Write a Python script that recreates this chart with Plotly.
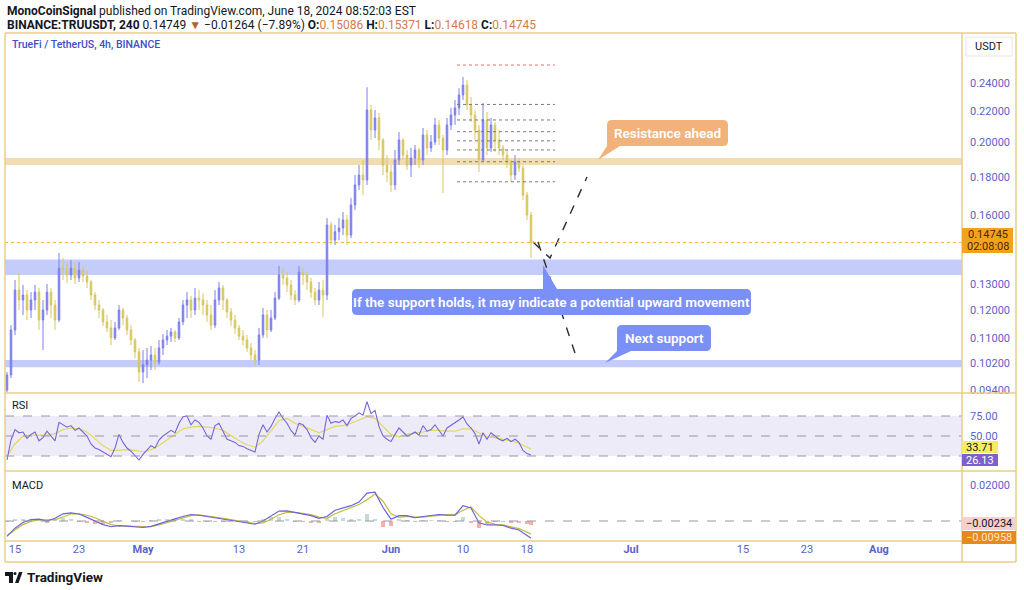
import pandas as pd
import plotly.graph_objects as go

# ---------------- data ----------------
candle_time = pd.date_range("2024-04-14 00:00", periods=132, freq="12h")

opens = [0.0940, 0.0984, 0.1129, 0.1275, 0.1237, 0.1256, 0.1200, 0.1237, 0.1267, 0.1164,
         0.1200, 0.1267, 0.1218, 0.1164, 0.1363, 0.1355, 0.1335, 0.1363, 0.1323, 0.1355,
         0.1331, 0.1307, 0.1256, 0.1218, 0.1200, 0.1157, 0.1136, 0.1102, 0.1136, 0.1200,
         0.1171, 0.1129, 0.1095, 0.1056, 0.0993, 0.1015, 0.1030, 0.1046, 0.1024, 0.1069,
         0.1095, 0.1108, 0.1122, 0.1102, 0.1157, 0.1218, 0.1237, 0.1200, 0.1244, 0.1237,
         0.1218, 0.1182, 0.1146, 0.1237, 0.1283, 0.1237, 0.1193, 0.1164, 0.1136, 0.1108,
         0.1095, 0.1069, 0.1046, 0.1030, 0.1112, 0.1182, 0.1129, 0.1171, 0.1244, 0.1335,
         0.1323, 0.1295, 0.1256, 0.1237, 0.1347, 0.1335, 0.1307, 0.1267, 0.1237, 0.1275,
         0.1256, 0.1555, 0.1485, 0.1523, 0.1541, 0.1579, 0.1508, 0.1653, 0.1757, 0.1811,
         0.1784, 0.2208, 0.2078, 0.2155, 0.2015, 0.1867, 0.1828, 0.1757, 0.1896, 0.2015,
         0.1925, 0.1867, 0.1908, 0.1955, 0.1896, 0.2046, 0.1967, 0.2003, 0.2110, 0.2027,
         0.1955, 0.2110, 0.2175, 0.2222, 0.2312, 0.2382, 0.2242, 0.2175, 0.2078, 0.1896,
         0.2142, 0.1967, 0.2110, 0.2015, 0.1967, 0.1925, 0.1884, 0.1811, 0.1884, 0.1850,
         0.1704, 0.1603]

highs = [0.0993, 0.1146, 0.1315, 0.1343, 0.1295, 0.1275, 0.1267, 0.1295, 0.1283, 0.1237,
         0.1299, 0.1283, 0.1237, 0.1428, 0.1406, 0.1389, 0.1397, 0.1389, 0.1389, 0.1372,
         0.1355, 0.1315, 0.1267, 0.1237, 0.1207, 0.1182, 0.1164, 0.1157, 0.1218, 0.1207,
         0.1182, 0.1146, 0.1102, 0.1069, 0.1062, 0.1069, 0.1075, 0.1069, 0.1095, 0.1115,
         0.1129, 0.1136, 0.1129, 0.1171, 0.1237, 0.1267, 0.1252, 0.1283, 0.1275, 0.1263,
         0.1237, 0.1218, 0.1275, 0.1307, 0.1295, 0.1244, 0.1207, 0.1182, 0.1146, 0.1129,
         0.1112, 0.1085, 0.1062, 0.1136, 0.1207, 0.1200, 0.1200, 0.1267, 0.1372, 0.1363,
         0.1347, 0.1315, 0.1275, 0.1372, 0.1363, 0.1347, 0.1323, 0.1283, 0.1307, 0.1315,
         0.1588, 0.1569, 0.1555, 0.1588, 0.1618, 0.1603, 0.1688, 0.1811, 0.1867, 0.1896,
         0.2367, 0.2242, 0.2208, 0.2188, 0.2027, 0.1925, 0.1867, 0.1955, 0.2065, 0.2027,
         0.1955, 0.1967, 0.1985, 0.1967, 0.2091, 0.2078, 0.2046, 0.2155, 0.2142, 0.2046,
         0.2155, 0.2222, 0.2277, 0.2359, 0.2442, 0.2419, 0.2298, 0.2208, 0.2110, 0.2256,
         0.2195, 0.2155, 0.2129, 0.2078, 0.1985, 0.1955, 0.1896, 0.1925, 0.1908, 0.1867,
         0.1720, 0.1618]

lows = [0.0934, 0.0975, 0.1112, 0.1200, 0.1182, 0.1164, 0.1171, 0.1200, 0.1129, 0.1062,
        0.1182, 0.1171, 0.1129, 0.1157, 0.1315, 0.1303, 0.1315, 0.1299, 0.1307, 0.1307,
        0.1283, 0.1237, 0.1200, 0.1171, 0.1143, 0.1122, 0.1078, 0.1095, 0.1129, 0.1146,
        0.1112, 0.1078, 0.1036, 0.0963, 0.0960, 0.0975, 0.0999, 0.0999, 0.1015, 0.1046,
        0.1078, 0.1088, 0.1088, 0.1095, 0.1146, 0.1171, 0.1171, 0.1182, 0.1200, 0.1182,
        0.1157, 0.1129, 0.1136, 0.1218, 0.1200, 0.1171, 0.1143, 0.1115, 0.1095, 0.1078,
        0.1056, 0.1030, 0.1012, 0.1015, 0.1102, 0.1102, 0.1122, 0.1164, 0.1237, 0.1295,
        0.1267, 0.1237, 0.1218, 0.1229, 0.1295, 0.1275, 0.1244, 0.1218, 0.1218, 0.1175,
        0.1237, 0.1463, 0.1463, 0.1485, 0.1508, 0.1463, 0.1494, 0.1628, 0.1730, 0.1704,
        0.1757, 0.2015, 0.2027, 0.1955, 0.1811, 0.1773, 0.1720, 0.1730, 0.1867, 0.1896,
        0.1839, 0.1800, 0.1867, 0.1850, 0.1867, 0.1925, 0.1943, 0.1985, 0.1985, 0.1714,
        0.1925, 0.2078, 0.2110, 0.2175, 0.2277, 0.2208, 0.2129, 0.2015, 0.1828, 0.1884,
        0.1925, 0.1943, 0.1943, 0.1925, 0.1896, 0.1850, 0.1773, 0.1784, 0.1828, 0.1678,
        0.1579, 0.1406]

closes = [0.0984, 0.1129, 0.1275, 0.1237, 0.1256, 0.1200, 0.1237, 0.1267, 0.1164, 0.1200,
          0.1267, 0.1218, 0.1164, 0.1363, 0.1355, 0.1335, 0.1363, 0.1323, 0.1355, 0.1331,
          0.1307, 0.1256, 0.1218, 0.1200, 0.1157, 0.1136, 0.1102, 0.1136, 0.1200, 0.1171,
          0.1129, 0.1095, 0.1056, 0.0993, 0.1015, 0.1030, 0.1046, 0.1024, 0.1069, 0.1095,
          0.1108, 0.1122, 0.1102, 0.1157, 0.1218, 0.1237, 0.1200, 0.1244, 0.1237, 0.1218,
          0.1182, 0.1146, 0.1237, 0.1283, 0.1237, 0.1193, 0.1164, 0.1136, 0.1108, 0.1095,
          0.1069, 0.1046, 0.1030, 0.1112, 0.1182, 0.1129, 0.1171, 0.1244, 0.1335, 0.1323,
          0.1295, 0.1256, 0.1237, 0.1347, 0.1335, 0.1307, 0.1267, 0.1237, 0.1275, 0.1256,
          0.1555, 0.1485, 0.1523, 0.1541, 0.1579, 0.1508, 0.1653, 0.1757, 0.1811, 0.1784,
          0.2208, 0.2078, 0.2155, 0.2015, 0.1867, 0.1828, 0.1757, 0.1896, 0.2015, 0.1925,
          0.1867, 0.1908, 0.1955, 0.1896, 0.2046, 0.1967, 0.2003, 0.2110, 0.2027, 0.1955,
          0.2110, 0.2175, 0.2222, 0.2312, 0.2382, 0.2242, 0.2175, 0.2078, 0.1896, 0.2142,
          0.1967, 0.2110, 0.2015, 0.1967, 0.1925, 0.1884, 0.1811, 0.1884, 0.1850, 0.1704,
          0.1603, 0.14745]

rsi = [20, 45, 58, 54, 55, 47, 52, 55, 44, 48,
       56, 50, 44, 67, 64, 61, 63, 57, 60, 55,
       50, 40, 35, 33, 30, 28, 24, 35, 52, 42,
       35, 31, 26, 20, 27, 33, 38, 35, 45, 50,
       53, 57, 54, 66, 74, 75, 64, 70, 67, 60,
       50, 46, 63, 66, 56, 46, 44, 42, 38, 37,
       34, 32, 30, 52, 64, 55, 62, 72, 80, 72,
       66, 57, 51, 66, 64, 58, 48, 42, 50, 46,
       76, 66, 68, 67, 70, 63, 72, 75, 79, 76,
       93, 78, 82, 62, 50, 46, 43, 52, 60, 55,
       50, 52, 55, 51, 63, 56, 58, 64, 57, 50,
       60, 63, 66, 70, 74, 65, 60, 53, 40, 54,
       46, 54, 50, 46, 44, 47, 43, 46, 42, 32,
       28, 26.13]

day_time = list(pd.date_range("2024-04-14", periods=66, freq="D")) + [pd.Timestamp("2024-06-18 12:00")]

rsi_ma = [25, 40, 50, 51, 51, 51, 53, 58, 60, 59,
          55, 47, 38, 32, 32, 33, 32, 30, 33, 38,
          45, 52, 59, 61, 62, 61, 60, 57, 50, 44,
          39, 36, 44, 56, 69, 72, 66, 62, 58, 54,
          58, 62, 63, 66, 70, 74, 72, 62, 52, 49,
          52, 54, 55, 57, 57, 56, 56, 59, 59, 54,
          49, 48, 46, 44, 41, 36, 33.71]

macd = [-0.0085, -0.0040, -0.0008, 0.0008, 0.0010, 0.0000, 0.0015, 0.0040, 0.0045, 0.0039,
        0.0020, 0.0000, -0.0020, -0.0032, -0.0026, -0.0028, -0.0032, -0.0036, -0.0030, -0.0015,
        0.0000, 0.0012, 0.0025, 0.0036, 0.0032, 0.0025, 0.0017, 0.0010, 0.0004, -0.0002,
        -0.0010, -0.0018, 0.0000, 0.0030, 0.0055, 0.0056, 0.0046, 0.0040, 0.0030, 0.0015,
        0.0025, 0.0060, 0.0072, 0.0085, 0.0105, 0.0155, 0.0160, 0.0075, 0.0010, 0.0030,
        0.0030, 0.0018, 0.0025, 0.0030, 0.0036, 0.0033, 0.0032, 0.0085, 0.0072, -0.0010,
        -0.0022, -0.0022, -0.0025, -0.0040, -0.0050, -0.0080, -0.00958]

signal = [-0.0080, -0.0050, -0.0020, -0.0002, 0.0006, 0.0006, 0.0006, 0.0022, 0.0039, 0.0040,
          0.0032, 0.0018, -0.0002, -0.0020, -0.0027, -0.0028, -0.0030, -0.0032, -0.0032, -0.0022,
          -0.0008, 0.0006, 0.0018, 0.0030, 0.0034, 0.0030, 0.0022, 0.0015, 0.0008, 0.0002,
          -0.0006, -0.0014, -0.0010, 0.0010, 0.0035, 0.0048, 0.0048, 0.0043, 0.0036, 0.0022,
          0.0015, 0.0040, 0.0058, 0.0075, 0.0092, 0.0118, 0.0150, 0.0110, 0.0040, 0.0020,
          0.0026, 0.0022, 0.0022, 0.0027, 0.0032, 0.0035, 0.0034, 0.0060, 0.0078, 0.0030,
          -0.0005, -0.0018, -0.0022, -0.0030, -0.0042, -0.0062, -0.00724]

hist = [m - s for m, s in zip(macd, signal)]

price_ticks = [0.094, 0.102, 0.11, 0.12, 0.13, 0.16, 0.18, 0.20, 0.22, 0.24]
rsi_ticks = [50, 75]
macd_ticks = [0.02]
date_ticks = ["2024-04-15", "2024-04-23", "2024-05-01", "2024-05-13", "2024-05-21", "2024-06-01",
              "2024-06-10", "2024-06-18", "2024-07-01", "2024-07-15", "2024-07-23", "2024-08-01"]
date_labels = ["15", "23", "<b>May</b>", "13", "21", "<b>Jun</b>", "10", "18", "<b>Jul</b>", "15", "23", "<b>Aug</b>"]

resistance_zone = [0.1867, 0.1908]
support_zone = [0.1335, 0.1400]
next_support_zone = [0.1008, 0.1030]
last_price = 0.14745

fib_levels = [0.2533, 0.2246, 0.2142, 0.2067, 0.2010, 0.1955, 0.1886, 0.1774]
fib_span = ["2024-06-09 06:00", "2024-06-21 12:00"]

proj_up_t = ["2024-06-18 18:00", "2024-06-20 21:00", "2024-06-25 12:00"]
proj_up_p = [0.1476, 0.1406, 0.1800]
proj_dn_t = ["2024-06-19 09:00", "2024-06-24 00:00"]
proj_dn_p = [0.1476, 0.1052]

# ---------------- style ----------------
FONT = "Roboto, Lato, sans-serif"
UP = "#7c80ea"
DOWN = "#d8c65c"
AXC = "#5b62c9"
FRAME = "#e8cf84"
DARK = "#131722"

# plot area in pixels
PL, PR, PT, PB = 5, 962, 33, 541


def px(X):
    return (X - PL) / (PR - PL)


def py(Y):
    return (PB - Y) / (PB - PT)


fig = go.Figure()

fig.add_trace(go.Candlestick(
    x=candle_time, open=opens, high=highs, low=lows, close=closes,
    increasing=dict(line=dict(color=UP, width=1), fillcolor=UP),
    decreasing=dict(line=dict(color=DOWN, width=1), fillcolor=DOWN),
    whiskerwidth=0, xaxis="x", yaxis="y", showlegend=False, hoverinfo="skip"))

fig.add_trace(go.Scatter(x=proj_up_t, y=proj_up_p, mode="lines", xaxis="x", yaxis="y",
                         line=dict(color="#2a2e39", width=1.4, dash="dash"), hoverinfo="skip"))
fig.add_trace(go.Scatter(x=proj_dn_t, y=proj_dn_p, mode="lines", xaxis="x", yaxis="y",
                         line=dict(color="#2a2e39", width=1.4, dash="dash"), hoverinfo="skip"))

fig.add_trace(go.Scatter(x=day_time, y=rsi_ma, mode="lines", xaxis="x", yaxis="y2",
                         line=dict(color="#e3d75a", width=1.2), hoverinfo="skip"))
fig.add_trace(go.Scatter(x=candle_time, y=rsi, mode="lines", xaxis="x", yaxis="y2",
                         line=dict(color="#7466d8", width=1.1), hoverinfo="skip"))

fig.add_trace(go.Bar(x=day_time, y=hist, xaxis="x", yaxis="y3", width=0.4 * 86400000,
                     marker=dict(color=["#c3ddd6" if h >= 0 else "#f4b0aa" for h in hist], line=dict(width=0)),
                     hoverinfo="skip"))
fig.add_trace(go.Scatter(x=day_time, y=signal, mode="lines", xaxis="x", yaxis="y3",
                         line=dict(color="#c4ba3e", width=1.2), hoverinfo="skip"))
fig.add_trace(go.Scatter(x=day_time, y=macd, mode="lines", xaxis="x", yaxis="y3",
                         line=dict(color="#6b63d8", width=1.2), hoverinfo="skip"))

shapes = []
# zones
for z, col in [(resistance_zone, "#f1dcb4"), (support_zone, "#c4ccfb"), (next_support_zone, "#c4ccfb")]:
    shapes.append(dict(type="rect", xref="paper", yref="y", x0=0, x1=1, y0=z[0], y1=z[1],
                       fillcolor=col, line=dict(width=0), layer="below"))
# last price line
shapes.append(dict(type="line", xref="paper", yref="y", x0=0, x1=1, y0=last_price, y1=last_price,
                   line=dict(color="#f0b43c", width=1, dash="dot")))
# fib lines
for k, lv in enumerate(fib_levels):
    shapes.append(dict(type="line", xref="x", yref="y", x0=fib_span[0], x1=fib_span[1], y0=lv, y1=lv,
                       line=dict(color="#e57373" if k == 0 else "#787b86", width=1, dash="dot")))
# RSI band and levels
shapes.append(dict(type="rect", xref="paper", yref="y2", x0=0, x1=1, y0=25, y1=75,
                   fillcolor="#eeebf8", line=dict(width=0), layer="below"))
for lv in [25, 50, 75]:
    shapes.append(dict(type="line", xref="paper", yref="y2", x0=0, x1=1, y0=lv, y1=lv,
                       line=dict(color="#9598a1", width=1, dash="dash")))
shapes.append(dict(type="line", xref="paper", yref="y3", x0=0, x1=1, y0=0, y1=0,
                   line=dict(color="#9598a1", width=1, dash="dash")))


# frame
def hline(Y, X0=5, X1=1016):
    shapes.append(dict(type="line", xref="paper", yref="paper", x0=px(X0), x1=px(X1), y0=py(Y), y1=py(Y),
                       line=dict(color=FRAME, width=1.5)))


def vline(X, Y0=33, Y1=562):
    shapes.append(dict(type="line", xref="paper", yref="paper", x0=px(X), x1=px(X), y0=py(Y0), y1=py(Y1),
                       line=dict(color=FRAME, width=1.5)))


for Y in [33, 393, 471, 541, 562]:
    hline(Y)
for X in [5, 962, 1016]:
    vline(X)


def rect_px(X0, Y0, X1, Y1, fill, line=None):
    shapes.append(dict(type="rect", xref="paper", yref="paper", x0=px(X0), x1=px(X1), y0=py(Y0), y1=py(Y1),
                       fillcolor=fill, line=dict(width=1 if line else 0, color=line or fill)))


def callout(X0, Y0, X1, Y1, base0, base1, tip, side, fill):
    r = 5
    P = lambda X, Y: f"{px(X):.5f},{py(Y):.5f}"
    if side == "bottom":
        d = (f"M {P(X0 + r, Y0)} L {P(X1 - r, Y0)} Q {P(X1, Y0)} {P(X1, Y0 + r)} "
             f"L {P(X1, Y1 - r)} Q {P(X1, Y1)} {P(X1 - r, Y1)} L {P(base1, Y1)} L {P(*tip)} "
             f"L {P(base0, Y1)} L {P(X0, Y1)} L {P(X0, Y0 + r)} Q {P(X0, Y0)} {P(X0 + r, Y0)} Z")
    else:
        d = (f"M {P(X0 + r, Y0)} L {P(base0, Y0)} L {P(*tip)} L {P(base1, Y0)} L {P(X1 - r, Y0)} "
             f"Q {P(X1, Y0)} {P(X1, Y0 + r)} L {P(X1, Y1 - r)} Q {P(X1, Y1)} {P(X1 - r, Y1)} "
             f"L {P(X0 + r, Y1)} Q {P(X0, Y1)} {P(X0, Y1 - r)} L {P(X0, Y0 + r)} Q {P(X0, Y0)} {P(X0 + r, Y0)} Z")
    shapes.append(dict(type="path", xref="paper", yref="paper", path=d, fillcolor=fill, line=dict(width=0)))


callout(607, 120, 728, 146, 607, 620, (598, 160), "bottom", "#f1b27b")
callout(352, 289, 751, 315, 543, 557, (543, 265), "top", "#7a90f6")
callout(617, 325, 711, 351, 617, 631, (605, 363), "bottom", "#7a90f6")

# axis badges
rect_px(966, 37, 1012, 56, "white", "#e6e6ee")
rect_px(962, 228, 1013, 253, "#f2a31e")
rect_px(962, 441, 998, 453, "#f4ec62")
rect_px(962, 454, 998, 466, "#7e5fd0")
rect_px(962, 517, 1016, 530, "#f7cfcf")
rect_px(962, 531, 1016, 544, "#e8891c")

# TradingView logo glyph
rect_px(5, 572, 13, 576, DARK)
rect_px(9, 576, 13, 583, DARK)
shapes.append(dict(type="circle", xref="paper", yref="paper", x0=px(13.5), x1=px(16.5), y0=py(572), y1=py(575),
                   fillcolor=DARK, line=dict(width=0)))
shapes.append(dict(type="path", xref="paper", yref="paper",
                   path=f"M {px(15):.5f},{py(583):.5f} L {px(19):.5f},{py(572):.5f} L {px(22.5):.5f},{py(572):.5f} L {px(18.5):.5f},{py(583):.5f} Z",
                   fillcolor=DARK, line=dict(width=0)))

annotations = []


def text(X, Y, s, size=11, color=DARK, anchor="left", weight=None, yanchor="middle"):
    f = dict(family=FONT, size=size, color=color)
    if weight:
        f["weight"] = weight
    annotations.append(dict(xref="paper", yref="paper", x=px(X), y=py(Y), text=s, showarrow=False,
                            xanchor=anchor, yanchor=yanchor, font=f))


OV = "#d27b50"
text(5, 11, "<b>MonoCoinSignal</b> published on TradingView.com, June 18, 2024 08:52:03 EST", size=12)
text(5, 25, "<b>BINANCE:TRUUSDT, 240</b> 0.14749 <span style='color:#b5602e'>▼</span> −0.01264 (−7.89%) "
            f"<b>O:</b><span style='color:{OV}'>0.15086</span> <b>H:</b><span style='color:{OV}'>0.15371</span> "
            f"<b>L:</b><span style='color:{OV}'>0.14618</span> <b>C:</b><span style='color:{OV}'>0.14745</span>",
     size=12)
text(10, 45, "TrueFi / TetherUS, 4h, BINANCE", size=10.5, color="#3d4fc9", weight=500)
text(10, 405, "RSI", size=11)
text(10, 485, "MACD", size=11)
text(989, 46.5, "USDT", size=11, anchor="center")
text(987.5, 235, "0.14745", size=11, color="#4a2a00", anchor="center")
text(987.5, 246.5, "02:08:08", size=11, color="#4a2a00", anchor="center")
text(980, 447, "33.71", size=11, color=DARK, anchor="center")
text(980, 460, "26.13", size=11, color="white", anchor="center")
text(989, 523.5, "−0.00234", size=11, color=DARK, anchor="center")
text(989, 537.5, "−0.00958", size=11, color="#ffe6c9", anchor="center")
text(667.5, 133, "Resistance ahead", size=13.5, color="white", anchor="center", weight=600)
text(551.5, 302, "If the support holds, it may indicate a potential upward movement", size=13.5,
     color="white", anchor="center", weight=600)
text(664, 338, "Next support", size=13.5, color="white", anchor="center", weight=600)
text(25, 577, "<b>TradingView</b>", size=13.5)

fig.update_layout(
    width=1024, height=590,
    margin=dict(l=PL, r=1024 - PR, t=PT, b=590 - PB),
    paper_bgcolor="white", plot_bgcolor="white",
    showlegend=False, hovermode=False, bargap=0, boxgap=0.45,
    font=dict(family=FONT, color=DARK),
    shapes=shapes, annotations=annotations,
    xaxis=dict(domain=[0, 1], anchor="y3", type="date",
               range=["2024-04-13 18:00", "2024-08-11 09:00"],
               tickvals=date_ticks, ticktext=date_labels, ticks="",
               tickfont=dict(family=FONT, size=11, color=AXC),
               showgrid=False, zeroline=False, showline=False,
               rangeslider=dict(visible=False)),
    yaxis=dict(domain=[py(393), 1], anchor="x", type="log", side="right",
               range=[-1.03079, -0.55397], tickvals=price_ticks, tickformat=".5f", ticks="",
               ticklabelstandoff=7, tickfont=dict(family=FONT, size=11, color=AXC),
               showgrid=False, zeroline=False, showline=False),
    yaxis2=dict(domain=[py(471), py(393)], anchor="x", side="right",
                range=[6.25, 103.75], tickvals=rsi_ticks, tickformat=".2f", ticks="",
                ticklabelstandoff=7, tickfont=dict(family=FONT, size=11, color=AXC),
                showgrid=False, zeroline=False, showline=False),
    yaxis3=dict(domain=[0, py(471)], anchor="x", side="right",
                range=[-0.01111, 0.02778], tickvals=macd_ticks, tickformat=".5f", ticks="",
                ticklabelstandoff=7, tickfont=dict(family=FONT, size=11, color=AXC),
                showgrid=False, zeroline=False, showline=False),
)

fig.write_html("out.html", config={"displayModeBar": False},
               post_script="document.body.style.margin='0';document.body.style.overflow='hidden';")
